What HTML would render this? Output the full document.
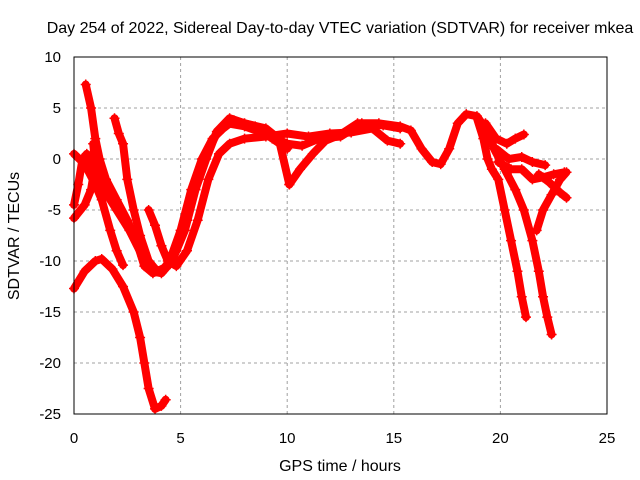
<!DOCTYPE html>
<html><head><meta charset="utf-8"><style>
body{margin:0;background:#fff;}
svg{display:block;font-family:"Liberation Sans",sans-serif;}
</style></head><body>
<svg id="chart" width="640" height="480" viewBox="0 0 640 480">
<rect width="640" height="480" fill="#fff"/>
<text x="340" y="33" font-size="16" text-anchor="middle" fill="#000">Day 254 of 2022, Sidereal Day-to-day VTEC variation (SDTVAR) for receiver mkea</text>
<g id="grid"></g>
<g id="series"></g>
<rect x="74" y="57" width="533" height="357" fill="none" stroke="#000" stroke-width="1"/>
<g id="ticks"></g>
<text x="340" y="471" font-size="16" text-anchor="middle">GPS time / hours</text>
<text transform="translate(19,236) rotate(-90)" font-size="16" text-anchor="middle">SDTVAR / TECUs</text>
</svg>
<script>
const xTicks=[0,5,10,15,20,25];
const yTicks=[10,5,0,-5,-10,-15,-20,-25];
const sA=[[0.55,7.3],[0.8,5],[1.0,2],[1.2,0],[1.5,-2],[2,-4],[2.5,-6],[3,-8.5],[3.3,-10.5],[3.7,-11.2],[4.2,-10.8],[4.8,-9],[5.3,-6],[5.8,-2],[6.2,0.5],[6.7,2.5],[7.2,3.5],[8,3.2],[8.8,2.6],[9.5,2],[10,1.5],[10.7,1.3],[11.5,2],[12.5,2.2],[13.5,3.5],[14.5,3.3],[15.3,3]];
const sB=[[0,0.5],[0.5,-0.5],[1,-2.5],[1.3,-4],[1.7,-7],[2,-9],[2.3,-10.4]];
const sC=[[0,-5.8],[0.5,-4.5],[0.8,-3],[1.0,-0.5],[0.9,1.5]];
const sC2=[[0,-4.5],[0.2,-2.5],[0.4,0],[0.6,0.5],[1.0,-1],[1.4,-3],[2,-5],[2.6,-7],[3.2,-9.5],[3.6,-11],[4.1,-11.2],[4.6,-10],[5.2,-7],[5.7,-3],[6.2,0],[6.7,2.7],[7.3,4],[8,3.5],[9,3],[9.6,2],[10.1,-2.5]];
const sD=[[0,-12.7],[0.5,-11],[1,-10],[1.3,-9.8],[1.8,-10.8],[2.3,-12.5],[2.8,-15],[3.1,-17.5],[3.3,-20],[3.5,-22.5],[3.8,-24.5],[4.1,-24.2],[4.3,-23.6]];
const sE=[[1.9,4],[2.1,2.5],[2.3,1.5],[2.5,-2],[2.8,-5],[3.1,-7.5],[3.5,-10],[3.9,-11],[4.4,-10.5],[5,-7],[5.5,-3],[6,0],[6.5,2],[7,3],[7.5,3.8],[8.5,3.2],[9.3,2],[10,1]];
const sF=[[3.5,-5],[3.8,-6.5],[4.1,-8.5],[4.4,-10],[4.8,-10.5],[5.3,-9],[5.8,-6],[6.3,-2],[6.8,0.5],[7.3,1.5],[8,2],[9,2.2],[10,2.5],[11,2.2],[12,2.5],[13,2.6],[14,3],[14.7,1.8],[15.3,1.5]];
const sG=[[10.1,-2.5],[10.6,-1],[11.2,0.5],[11.8,1.8],[12.5,2.4],[13.3,3.5],[14.3,3.5],[15.3,3.2],[15.8,2.8],[16.3,1],[16.8,-0.3],[17.2,-0.5],[17.6,1],[18,3.5],[18.4,4.4],[18.9,4.2],[19.3,3]];
const sH=[[18.9,4],[19.2,2],[19.4,0],[19.6,-1],[19.9,-2],[20.2,-5],[20.5,-8],[20.8,-11],[21,-13.5],[21.2,-15.5]];
const sI=[[19.3,3],[19.7,1],[20.2,-1],[20.7,-3],[21.1,-5],[21.5,-8],[21.8,-11],[22,-13.5],[22.2,-15.5],[22.4,-17.2]];
const sJ=[[19.3,3.5],[19.8,2],[20.3,1.5],[20.7,2],[21.1,2.4]];
const sK=[[19.8,1],[20.4,0],[21,0.2],[21.5,-0.3],[22.1,-0.6]];
const sL=[[19.9,-0.3],[20.5,-1],[21,-1],[21.5,-2],[22,-1.8],[22.5,-1.5],[23,-1.3]];
const sM=[[21.7,-7],[22,-5],[22.4,-3.5],[22.8,-2],[23.1,-1.3]];
const sN=[[21.8,-1.5],[22.3,-2.3],[22.8,-3.3],[23.1,-3.8]];
const allSeries=[sA,sB,sC,sC2,sD,sE,sF,sG,sH,sI,sJ,sK,sL,sM,sN];
const X=h=>74+h*533/25;
const Y=v=>57+(10-v)*357/35;
const NS="http://www.w3.org/2000/svg";
const grid=document.getElementById('grid'),ticks=document.getElementById('ticks'),ser=document.getElementById('series');
function mk(t,a,p){const e=document.createElementNS(NS,t);for(const k in a)e.setAttribute(k,a[k]);p.appendChild(e);return e;}
xTicks.forEach(t=>{
 if(t>0&&t<25){const g=mk('line',{x1:X(t),x2:X(t),y1:57,y2:414,stroke:'#a0a0a0','stroke-dasharray':'3,3'},grid);
 
 }
 const l=mk('text',{x:X(t),y:443,'font-size':15,'text-anchor':'middle'},ticks);l.textContent=t;
 
 
});
yTicks.forEach(t=>{
 if(t<10&&t>-25){const g=mk('line',{x1:74,x2:607,y1:Y(t),y2:Y(t),stroke:'#a0a0a0','stroke-dasharray':'3,3'},grid);
 
 }
 const l=mk('text',{x:61,y:Y(t)+5,'font-size':15,'text-anchor':'end'},ticks);l.textContent=t;
 
 
});
allSeries.forEach((s,i)=>{
 const p=mk('polyline',{points:s.map(d=>X(d[0])+','+Y(d[1])).join(' '),fill:'none',stroke:'#ff0000','stroke-width':8,'stroke-linejoin':'round','stroke-linecap':'round'},ser);
 
 
 s.forEach(d=>{
  const m=mk('path',{d:`M${X(d[0])-5},${Y(d[1])}h10M${X(d[0])},${Y(d[1])-5}v10`,stroke:'#ff0000','stroke-width':1.5},ser);
  
  
 });
});
</script>
</body></html>
